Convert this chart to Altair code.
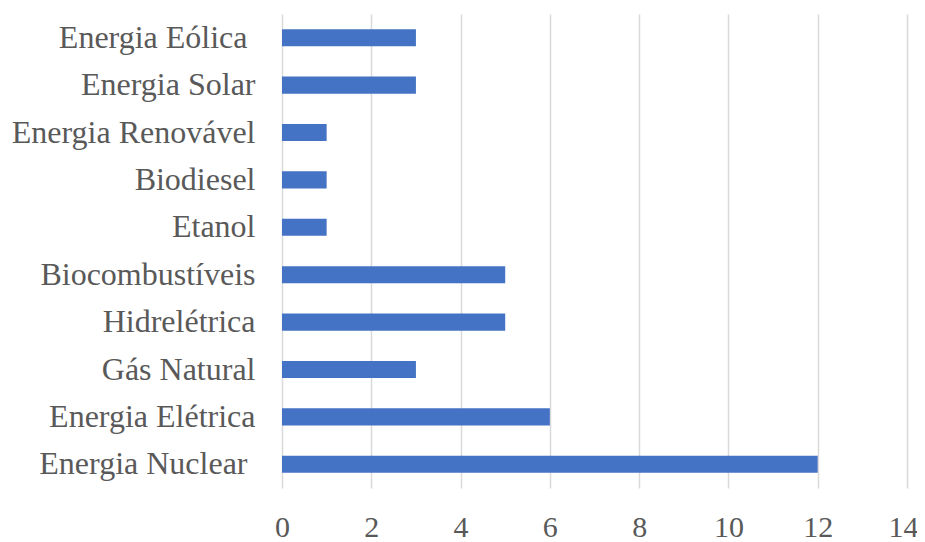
import altair as alt
import pandas as pd

categories = [
    "Energia Eólica", "Energia Solar", "Energia Renovável", "Biodiesel",
    "Etanol", "Biocombustíveis", "Hidrelétrica", "Gás Natural",
    "Energia Elétrica", "Energia Nuclear",
]
values = [3, 3, 1, 1, 1, 5, 5, 3, 6, 12]
x_ticks = [0, 2, 4, 6, 8, 10, 12, 14]

df = pd.DataFrame({"cat": categories, "val": values})

chart = alt.Chart(df).mark_bar(color="#4472C4").encode(
    x=alt.X("val:Q",
            scale=alt.Scale(domain=[0, 14], nice=False, zero=True),
            axis=alt.Axis(values=x_ticks, title=None, domain=False, ticks=False,
                          grid=True, gridColor="#D9D9D9", gridWidth=1.5,
                          labelFont="Liberation Serif", labelFontSize=30,
                          labelColor="#595959", labelPadding=48,
                          labelOffset={"condition": {"test": "datum.value == 14",
                                                     "value": -4}, "value": 0},
                          labelBaseline="alphabetic", labelFlush=False)),
    y=alt.Y("cat:N", sort=categories,
            scale=alt.Scale(paddingInner=0.64, paddingOuter=0.32),
            axis=alt.Axis(title=None, domain=False, ticks=False, grid=False,
                          labelFont="Liberation Serif", labelFontSize=32,
                          labelColor="#595959",
                          labelPadding={"condition": {
                              "test": "datum.value == 'Energia Eólica' || datum.value == 'Energia Nuclear'",
                              "value": 35}, "value": 27},
                          labelLimit=400)),
).properties(
    width=625, height=474,
    autosize=alt.AutoSizeParams(type="none"),
    padding={"left": 274, "top": 6, "right": 10, "bottom": 54},
).configure_view(stroke=None)

chart.save("out.html", embed_options={"renderer": "svg", "actions": False})
